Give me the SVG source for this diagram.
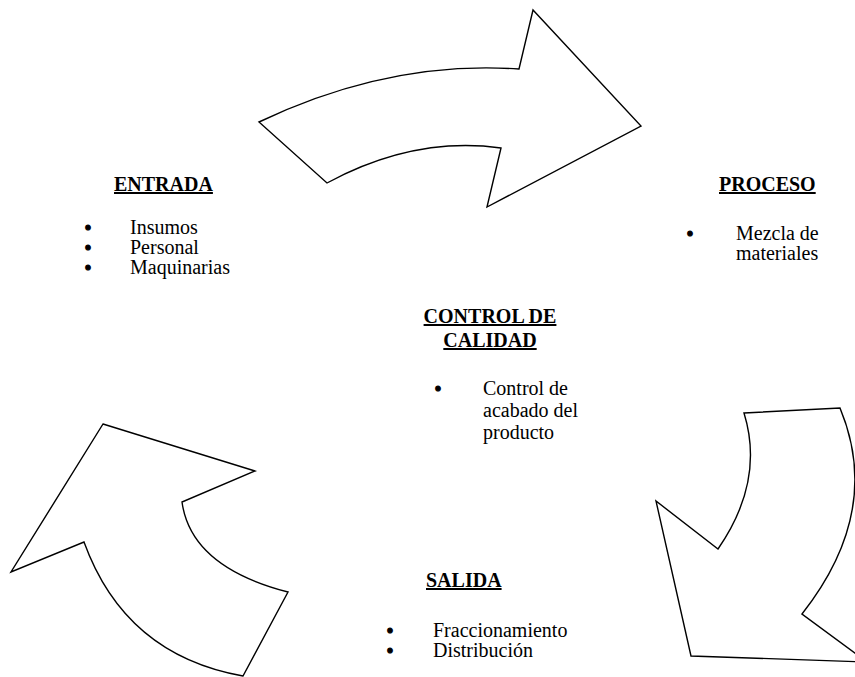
<svg xmlns="http://www.w3.org/2000/svg" width="855" height="677" viewBox="0 0 855 677">
  <style>
    .arrow { fill: #ffffff; stroke: #000000; stroke-width: 1.4; stroke-linejoin: miter; }
    .head { font-family: "Liberation Serif", "Times New Roman", serif; font-size: 20px; font-weight: bold; text-decoration: underline; fill: #000; }
    .body { font-family: "Liberation Serif", "Times New Roman", serif; font-size: 20px; fill: #000; }
    /* list markers: plain bullet glyph, thickened a little with a stroke */
    .bul { font-family: "Liberation Serif", "Times New Roman", serif; font-size: 20px; fill: #000; stroke: #000; stroke-width: 1.1; text-anchor: middle; }
  </style>
  <rect width="855" height="677" fill="#ffffff"/>

  <!-- curved block arrows of the cycle -->
  <g id="connectors">
    <path id="arrow-top" class="arrow" d="M259,122 Q389,60 519,69 L533,10 L641,126 L487,207 L501,148 Q414,136 327,183 Z"/>
    <path id="arrow-right" class="arrow" d="M744,413 L840,408 Q883,511 802,614 L867,662 L691,656 L656,501 L718,549 Q765,481 744,413 Z"/>
    <path id="arrow-left" class="arrow" d="M103,424 L255,471 L182,502 Q191,567 288,592 L243,676 Q125,655 84,542 L11,572 Z"/>
  </g>

  <g id="entrada">
    <text class="head" x="114" y="191">ENTRADA</text>
    <text class="bul" x="88" y="234.5">•</text>
    <text class="body" x="130" y="234">Insumos</text>
    <text class="bul" x="88" y="254.5">•</text>
    <text class="body" x="130" y="254">Personal</text>
    <text class="bul" x="88" y="274.5">•</text>
    <text class="body" x="130" y="274">Maquinarias</text>
  </g>

  <g id="proceso">
    <text class="head" x="719" y="191">PROCESO</text>
    <text class="bul" x="690" y="240.5">•</text>
    <text class="body" x="736" y="240">Mezcla de</text>
    <text class="body" x="736" y="260">materiales</text>
  </g>

  <g id="control">
    <text class="head" x="490" y="323" text-anchor="middle">CONTROL DE</text>
    <text class="head" x="490" y="347" text-anchor="middle">CALIDAD</text>
    <text class="bul" x="438" y="395.5">•</text>
    <text class="body" x="483" y="395">Control de</text>
    <text class="body" x="483" y="417">acabado del</text>
    <text class="body" x="483" y="439">producto</text>
  </g>

  <g id="salida">
    <text class="head" x="426" y="587">SALIDA</text>
    <text class="bul" x="390" y="637.5">•</text>
    <text class="body" x="433" y="637">Fraccionamiento</text>
    <text class="bul" x="390" y="657.5">•</text>
    <text class="body" x="433" y="657">Distribución</text>
  </g>
</svg>
